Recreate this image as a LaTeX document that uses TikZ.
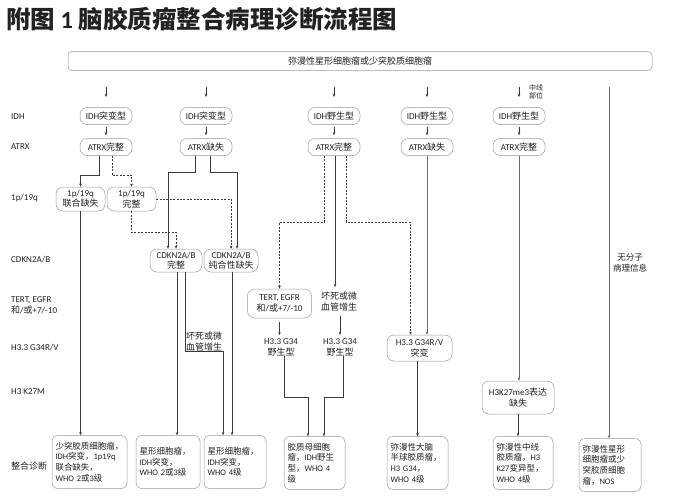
\documentclass[tikz,border=0pt]{standalone}
\usepackage{fontspec}
\setmainfont{Carlito}
\newfontfamily\cjk{Noto Sans CJK SC}
\usetikzlibrary{arrows.meta}
\XeTeXinterchartokenstate=1
\newXeTeXintercharclass\CJKclass
\newcount\cjkcnt
\cjkcnt="2E80
\loop \XeTeXcharclass\cjkcnt=\CJKclass\relax \ifnum\cjkcnt<"9FFF \advance\cjkcnt by 1 \repeat
\cjkcnt="FF00
\loop \XeTeXcharclass\cjkcnt=\CJKclass\relax \ifnum\cjkcnt<"FFEF \advance\cjkcnt by 1 \repeat
\XeTeXinterchartoks 0 \CJKclass = {\cjk}
\XeTeXinterchartoks 4095 \CJKclass = {\cjk}
\XeTeXinterchartoks \CJKclass 0 = {\rmfamily}
\XeTeXinterchartoks \CJKclass 4095 = {\rmfamily}
\newcommand\fs[2]{\fontsize{#1}{#2}\selectfont}
\definecolor{txt}{HTML}{222222}
\definecolor{bd}{HTML}{9A9A9A}
\definecolor{lc}{HTML}{3A3A3A}
\definecolor{lcb}{HTML}{6A6A6A}
\begin{document}
\begin{tikzpicture}[x=1pt,y=-1pt,
  every node/.style={inner sep=0pt, text=txt},
  lbl/.style={anchor=west, font=\fs{9}{11}},
  pill/.style={draw=bd, line width=0.5pt, rounded corners=7pt, minimum width=52pt, minimum height=17pt, align=center, font=\fs{9}{10.5}},
  dbox/.style={draw=bd, line width=0.5pt, rounded corners=6pt, minimum height=53pt, align=left, font=\fs{8.5}{10.6}, inner xsep=3.5pt},
  ln/.style={draw=lc, line width=0.6pt},
  arr/.style={ln, -{Stealth[length=3.2pt,width=2.6pt]}},
  dsh/.style={arr, dash pattern=on 2pt off 1.4pt},
  free/.style={align=center, font=\fs{9}{11}}
]
\useasboundingbox (0,0) rectangle (686,501);
\fill[white] (0,0) rectangle (686,501);

% title and top box
\node[anchor=west, font=\bfseries\fs{24.5}{27}] (title) at (6,19) {附图 1 脑胶质瘤整合病理诊断流程图};
\node[draw=bd, line width=0.5pt, rounded corners=4pt, minimum width=584pt, minimum height=19pt, font=\fs{9}{10}] (top) at (360,61) {弥漫性星形细胞瘤或少突胶质细胞瘤};

% row labels
\node[lbl] (lIDH) at (11,116.5) {IDH};
\node[lbl] (lATRX) at (11,147) {ATRX};
\node[lbl] (l1p) at (11,198) {1p/19q};
\node[lbl] (lCDK) at (11,260) {CDKN2A/B};
\node[lbl, align=left] (lTERT) at (11,305) {TERT, EGFR\\和/或+7/-10};
\node[lbl] (lG34) at (11,348) {H3.3 G34R/V};
\node[lbl] (lK27) at (11,392) {H3 K27M};
\node[lbl] (lDx) at (11,466) {整合诊断};

% IDH row
\node[pill] (i1) at (106,116) {IDH突变型};
\node[pill] (i2) at (206,116) {IDH突变型};
\node[pill] (i3) at (334,116) {IDH野生型};
\node[pill] (i4) at (427,116) {IDH野生型};
\node[pill] (i5) at (519,116) {IDH野生型};
% ATRX row
\node[pill] (a1) at (106,147) {ATRX完整};
\node[pill] (a2) at (206,147) {ATRX缺失};
\node[pill] (a3) at (334,147) {ATRX完整};
\node[pill] (a4) at (427,147) {ATRX缺失};
\node[pill] (a5) at (519,147) {ATRX完整};

% 1p/19q
\node[pill, minimum width=49pt, minimum height=24pt] (p1) at (80.5,199) {1p/19q\\联合缺失};
\node[pill, minimum width=49pt, minimum height=24pt] (p2) at (131.5,199) {1p/19q\\完整};

% CDKN2A/B
\node[pill, minimum width=52pt, minimum height=23pt] (c1) at (176,260.5) {CDKN2A/B\\完整};
\node[pill, minimum width=54pt, minimum height=23pt] (c2) at (231,260.5) {CDKN2A/B\\纯合性缺失};

% column 3 middle
\node[pill, minimum width=64pt, minimum height=29pt] (te) at (279.5,303.5) {TERT, EGFR\\和/或+7/-10};
\node[free] (nk2) at (339,302) {坏死或微\\血管增生};
\node[free] (w1) at (281,347) {H3.3 G34\\野生型};
\node[free] (w2) at (340,347) {H3.3 G34\\野生型};
\node[free, anchor=south west, align=left] (nk1) at (186,351) {坏死或微\\血管增生};

% column 4,5
\node[pill, minimum width=65pt, minimum height=26pt] (g) at (419.5,348) {H3.3 G34R/V\\突变};
\node[pill, minimum width=72pt, minimum height=33pt] (k) at (518,397.5) {H3K27me3表达\\缺失};

% side labels
\node[free, font=\fs{7}{8.5}] (mid) at (536,92) {中线\\部位};
\node[free, font=\fs{8.5}{10.5}] (nomol) at (630,263) {无分子\\病理信息};

% bottom diagnosis boxes
\node[dbox, text width=68pt] (d1) at (89.5,462) {少突胶质细胞瘤，\\IDH突变，1p19q\\联合缺失，\\WHO 2或3级};
\node[dbox, text width=57pt] (d2) at (168,462) {星形细胞瘤，\\IDH突变，\\WHO 2或3级};
\node[dbox, text width=55pt] (d3) at (235,462) {星形细胞瘤，\\IDH突变，\\WHO 4级};
\node[dbox, text width=54pt] (d4) at (314.5,463) {胶质母细胞\\瘤，IDH野生\\型，WHO 4\\级};
\node[dbox, text width=54pt] (d5) at (417.5,463) {弥漫性大脑\\半球胶质瘤，\\H3 G34，\\WHO 4级};
\node[dbox, text width=53pt] (d6) at (523,463) {弥漫性中线\\胶质瘤，H3\\K27变异型，\\WHO 4级};
\node[dbox, text width=55pt] (d7) at (610,465) {弥漫性星形\\细胞瘤或少\\突胶质细胞\\瘤，NOS};

% top short arrows
\foreach \n/\x in {1/106,2/206,3/334,4/427,5/519} {
  \coordinate (s\n) at (\x,87);
  \coordinate (e\n) at (\x,97);
  \draw[arr] (s\n) -- (e\n);
  \draw[arr] ([yshift=-2.5pt]i\n.south) -- ([yshift=3pt]a\n.north);
}
% long right line
\coordinate (s7) at (609,87);
\draw[arr, draw=lcb] (s7) -- (s7 |- d7.north);

% column 1
\draw[arr] ([xshift=-7pt]a1.south) -- ++(0,19.5) -| (p1.north);
\draw[dsh] ([xshift=6pt]a1.south) -- ++(0,19.5) -| (p2.north);
\draw[arr] (p1.south) -- (p1.south |- d1.north);

% column 2
\draw[arr] ([xshift=-11pt]a2.south) -- ++(0,17) -| ([xshift=-8pt]c1.north);
\draw[arr] ([xshift=4pt]a2.south) -- ++(0,17) -| ([xshift=6pt]c2.north);
\draw[dsh] (p2.south) -- ++(0,21) -| (c1.north);
\draw[dsh] (p2.east) -| (c2.north);
\draw[arr] ([xshift=1pt]c1.south) -- ([xshift=1pt]c1.south |- d2.north);
\draw[arr] ([xshift=9pt]c1.south) -- ++(0,79.5) -| ([xshift=-12pt]d3.north);
\draw[arr] ([xshift=1pt]c2.south) -- ([xshift=1pt]c2.south |- d3.north);

% column 3
\draw[dsh] ([xshift=-10pt]a3.south) -- ++(0,66.5) -| (te.north);
\draw[arr] ([xshift=1pt]a3.south) -- ([xshift=1pt,yshift=5pt]a3.south |- nk2.north);
\draw[dsh] ([xshift=12pt]a3.south) -- ++(0,66.5) -| ([xshift=-9pt]g.north);
\draw[arr] ([yshift=-4pt]te.south) -- ([yshift=3pt]te.south |- w1.north);
\draw[arr] ([yshift=-4pt]w2.north |- nk2.south) -- ([yshift=3pt]w2.north);
\coordinate (j1) at (308,397);
\coordinate (j2) at (324,397);
\draw[arr] ([xshift=3pt]w1.south) |- (j1) -- (j1 |- d4.north);
\draw[arr] ([xshift=3pt]w2.south) |- (j2) -- (j2 |- d4.north);

% column 4
\draw[arr, draw=lcb] (a4.south) -- (a4.south |- g.north);
\draw[arr] ([xshift=-2pt]g.south) -- ([xshift=-2pt]g.south |- d5.north);

% column 5
\draw[arr, draw=lcb] (a5.south) -- (a5.south |- k.north);
\draw[arr] (k.south) -- (k.south |- d6.north);
\end{tikzpicture}
\end{document}
